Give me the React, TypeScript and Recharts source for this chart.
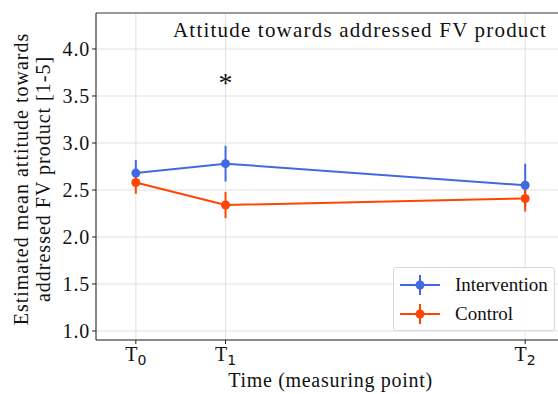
import React from 'react';
import {
  ComposedChart, Line, XAxis, YAxis, CartesianGrid, ErrorBar, ReferenceDot, ReferenceLine,
} from 'recharts';

const timeSubscripts = ['0', '1', '2'];
const timeValues = [0, 1, 4.34];
const intervention = [2.68, 2.78, 2.55];
const interventionErr = [0.14, 0.19, 0.23];
const control = [2.58, 2.34, 2.41];
const controlErr = [0.12, 0.14, 0.14];
const yTicks = [1.0, 1.5, 2.0, 2.5, 3.0, 3.5, 4.0];
const seriesNames = ['Intervention', 'Control'];
const seriesColors = ['#4169e1', '#ff4500'];

const data = timeValues.map((t, i) => ({
  t,
  intervention: intervention[i],
  intErr: interventionErr[i],
  control: control[i],
  ctrlErr: controlErr[i],
}));

const FONT = '"Liberation Serif", "Times New Roman", serif';
const FS = 20;
const LS = 0.8;
const X_DOMAIN: [number, number] = [-0.444, 4.784];
const Y_DOMAIN: [number, number] = [0.904, 4.383];

const XTick = (props: any) => {
  const { x, y, payload } = props;
  const idx = timeValues.indexOf(payload.value);
  return (
    <g transform={`translate(${x},${y})`}>
      <text x={0} y={0} dy={15} textAnchor="middle" fontFamily={FONT} fontSize={FS} fill="#111">
        <tspan>T</tspan>
        <tspan dy={4} fontSize={14} fontFamily='"DejaVu Sans", sans-serif'>{timeSubscripts[idx]}</tspan>
      </text>
    </g>
  );
};

const YTick = (props: any) => {
  const { x, y, payload } = props;
  return (
    <text x={x} y={y} textAnchor="end" dominantBaseline="central" fontFamily={FONT} fontSize={FS}
      letterSpacing={LS} fill="#111">
      {Number(payload.value).toFixed(1)}
    </text>
  );
};

const YLabel = () => {
  const cy = 179;
  return (
    <g>
      <text transform={`translate(21,${cy}) rotate(-90)`} textAnchor="middle" dominantBaseline="central"
        fontFamily={FONT} fontSize={FS} letterSpacing={1.0} fill="#111">
        Estimated mean attitude towards
      </text>
      <text transform={`translate(43,${cy}) rotate(-90)`} textAnchor="middle" dominantBaseline="central"
        fontFamily={FONT} fontSize={FS} letterSpacing={1.0} fill="#111">
        addressed FV product [1-5]
      </text>
    </g>
  );
};

const XLabel = (props: any) => {
  const vb = props.viewBox || {};
  const cx = (vb.x ?? 96) + (vb.width ?? 468) / 2;
  return (
    <text x={cx} y={387} textAnchor="middle" fontFamily={FONT} fontSize={FS} letterSpacing={0.7} fill="#111">
      Time (measuring point)
    </text>
  );
};

export default function App() {
  return (
    <div style={{ position: 'absolute', left: 0, top: 0, width: 558, height: 394, overflow: 'hidden', background: '#fff' }}>
      <ComposedChart width={580} height={394} data={data} margin={{ top: 13, right: 15, bottom: 24, left: 56 }}>
        <CartesianGrid stroke="#d9d9d9" strokeWidth={0.8} />
        <XAxis
          dataKey="t" type="number" domain={X_DOMAIN} ticks={timeValues} allowDataOverflow
          tick={<XTick />} tickLine={{ stroke: '#222' }} tickSize={4}
          axisLine={{ stroke: '#222', strokeWidth: 1 }} height={30}
          label={<XLabel />}
        />
        <YAxis
          type="number" domain={Y_DOMAIN} ticks={yTicks} allowDataOverflow width={40}
          tick={<YTick />} tickLine={{ stroke: '#222' }} tickSize={4}
          axisLine={{ stroke: '#222', strokeWidth: 1 }}
          label={<YLabel />}
        />
        <ReferenceLine y={Y_DOMAIN[1]} stroke="#444" strokeWidth={1} ifOverflow="visible" />
        <Line
          dataKey="intervention" name={seriesNames[0]} stroke={seriesColors[0]} strokeWidth={2}
          dot={{ r: 4.5, fill: seriesColors[0], stroke: seriesColors[0], strokeWidth: 0 }} isAnimationActive={false}
        >
          <ErrorBar dataKey="intErr" width={0} stroke={seriesColors[0]} strokeWidth={2} direction="y" />
        </Line>
        <Line
          dataKey="control" name={seriesNames[1]} stroke={seriesColors[1]} strokeWidth={2}
          dot={{ r: 4.5, fill: seriesColors[1], stroke: seriesColors[1], strokeWidth: 0 }} isAnimationActive={false}
        >
          <ErrorBar dataKey="ctrlErr" width={0} stroke={seriesColors[1]} strokeWidth={2} direction="y" />
        </Line>
        <ReferenceDot x={1} y={3.65} r={0} fill="none" stroke="none"
          label={{ value: '*', position: 'center', fontFamily: FONT, fontSize: 28, fill: '#111' }} />
      </ComposedChart>
      <div style={{ position: 'absolute', left: 173, top: 18, fontFamily: FONT, fontSize: 21, letterSpacing: 1.2, color: '#111', whiteSpace: 'nowrap' }}>
        Attitude towards addressed FV product
      </div>
      <div style={{
        position: 'absolute', left: 393, top: 267, width: 162, height: 64, boxSizing: 'border-box',
        border: '1px solid #d8d8d8', borderRadius: 3, background: 'rgba(255,255,255,0.85)',
        padding: '2px 0 0 5px', fontFamily: FONT, fontSize: 19, color: '#111',
      }}>
        {seriesNames.map((n, i) => (
          <div key={n} style={{ display: 'flex', alignItems: 'center', height: 29, whiteSpace: 'nowrap' }}>
            <svg width={42} height={22} style={{ marginRight: 14, flexShrink: 0 }}>
              <line x1={1} y1={11} x2={41} y2={11} stroke={seriesColors[i]} strokeWidth={2} />
              <line x1={21} y1={1} x2={21} y2={21} stroke={seriesColors[i]} strokeWidth={2} />
              <circle cx={21} cy={11} r={4.5} fill={seriesColors[i]} />
            </svg>
            <span>{n}</span>
          </div>
        ))}
      </div>
    </div>
  );
}
